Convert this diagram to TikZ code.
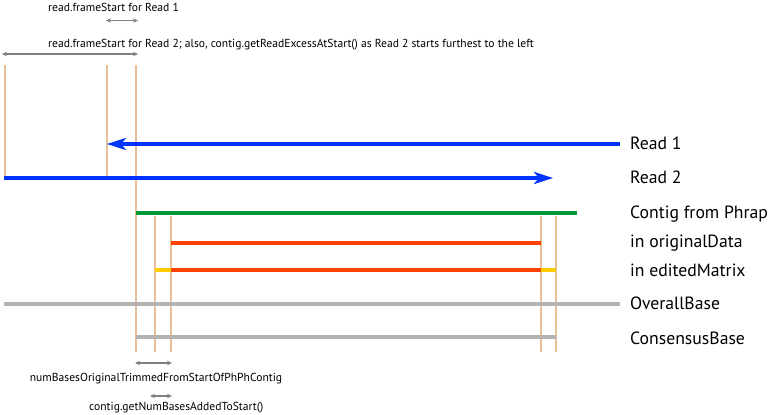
\documentclass[tikz,border=0pt]{standalone}
\usepackage{fontspec}
\setmainfont{PT Sans}
\usetikzlibrary{arrows.meta}
\definecolor{rblue}{RGB}{0,51,255}
\definecolor{rgreen}{RGB}{0,153,51}
\definecolor{rred}{RGB}{255,64,0}
\definecolor{ryellow}{RGB}{255,204,0}
\definecolor{rgray}{RGB}{179,179,179}
\definecolor{rtan}{RGB}{236,192,150}
\definecolor{rarrow}{RGB}{128,128,128}
\tikzset{
  bar/.style={line width=4.5pt},
  guide/.style={draw=rtan,line width=1.6pt},
  span/.style={draw=rarrow,line width=1.3pt,{Stealth[length=5pt,width=4.5pt]}-{Stealth[length=5pt,width=4.5pt]}},
  lbl/.style={anchor=base west,inner sep=0pt,font=\fontsize{17.7}{20}\selectfont},
  note/.style={anchor=base west,inner sep=0pt,font=\fontsize{11.6}{13}\selectfont},
  pt/.style={inner sep=0pt,minimum size=0pt}
}
\begin{document}
\begin{tikzpicture}[x=1pt,y=-1pt]
\useasboundingbox (0,0) rectangle (769,415);
% coordinates
\coordinate (g1t) at (5,65);   \coordinate (g1b) at (5,178);
\coordinate (g2t) at (107,65); \coordinate (g2b) at (107,178);
\coordinate (g3t) at (136,65); \coordinate (g3b) at (136,352);
\coordinate (g4t) at (155,216); \coordinate (g4b) at (155,352);
\coordinate (g5t) at (171,216); \coordinate (g5b) at (171,352);
\coordinate (g6t) at (541,216); \coordinate (g6b) at (541,352);
\coordinate (g7t) at (556,216); \coordinate (g7b) at (556,352);
% guides
\draw[guide] (g1t) -- (g1b);
\draw[guide] (g2t) -- (g2b);
\draw[guide] (g3t) -- (g3b);
\draw[guide] (g4t) -- (g4b);
\draw[guide] (g5t) -- (g5b);
\draw[guide] (g6t) -- (g6b);
\draw[guide] (g7t) -- (g7b);
% bars
\coordinate (r1s) at (620,144); \coordinate (r1e) at (107,144);
\coordinate (r2s) at (4,178);   \coordinate (r2e) at (553,178);
\draw[bar,rblue,-{Stealth[length=19pt,width=12pt,inset=5pt]}] (r1s) -- (r1e);
\draw[bar,rblue,-{Stealth[length=19pt,width=12pt,inset=5pt]}] (r2s) -- (r2e);
\coordinate (cs) at (136,213); \coordinate (ce) at (577,213);
\draw[bar,rgreen] (cs) -- (ce);
\coordinate (o1s) at (171,243); \coordinate (o1e) at (541,243);
\draw[bar,rred] (o1s) -- (o1e);
\coordinate (e0) at (155,270); \coordinate (e1) at (171,270);
\coordinate (e2) at (541,270); \coordinate (e3) at (556,270);
\draw[bar,ryellow] (e0) -- (e1);
\draw[bar,rred] (e1) -- (e2);
\draw[bar,ryellow] (e2) -- (e3);
\coordinate (obs) at (4,304); \coordinate (obe) at (620,304);
\draw[bar,rgray] (obs) -- (obe);
\coordinate (cbs) at (136,337); \coordinate (cbe) at (556,337);
\draw[bar,rgray] (cbs) -- (cbe);
% labels
\node[lbl] (lr1) at (630,149) {Read 1};
\node[lbl] (lr2) at (630,183) {Read 2};
\node[lbl] (lc) at (630,218) {Contig from Phrap};
\node[lbl] (lo) at (630,247) {in originalData};
\node[lbl] (le) at (630,276) {in editedMatrix};
\node[lbl] (lob) at (630,309) {OverallBase};
\node[lbl] (lcb) at (630,344) {ConsensusBase};
% top notes
\node[note] (n1) at (48,11) {read.frameStart for Read 1};
\coordinate (a1s) at (106,20.5); \coordinate (a1e) at (138,20.5);
\draw[span] (a1s) -- (a1e);
\node[note] (n2) at (48,47) {read.frameStart for Read 2; also, contig.getReadExcessAtStart() as Read 2 starts furthest to the left};
\coordinate (a2s) at (2,54); \coordinate (a2e) at (138,54);
\draw[span] (a2s) -- (a2e);
% bottom notes
\coordinate (a3s) at (135,363); \coordinate (a3e) at (172,363);
\draw[span] (a3s) -- (a3e);
\node[note,anchor=base] (n3) at (156,381) {numBasesOriginalTrimmedFromStartOfPhPhContig};
\coordinate (a4s) at (150,396); \coordinate (a4e) at (172,396);
\draw[span] (a4s) -- (a4e);
\node[note] (n4) at (89,410) {contig.getNumBasesAddedToStart()};
\end{tikzpicture}
\end{document}
